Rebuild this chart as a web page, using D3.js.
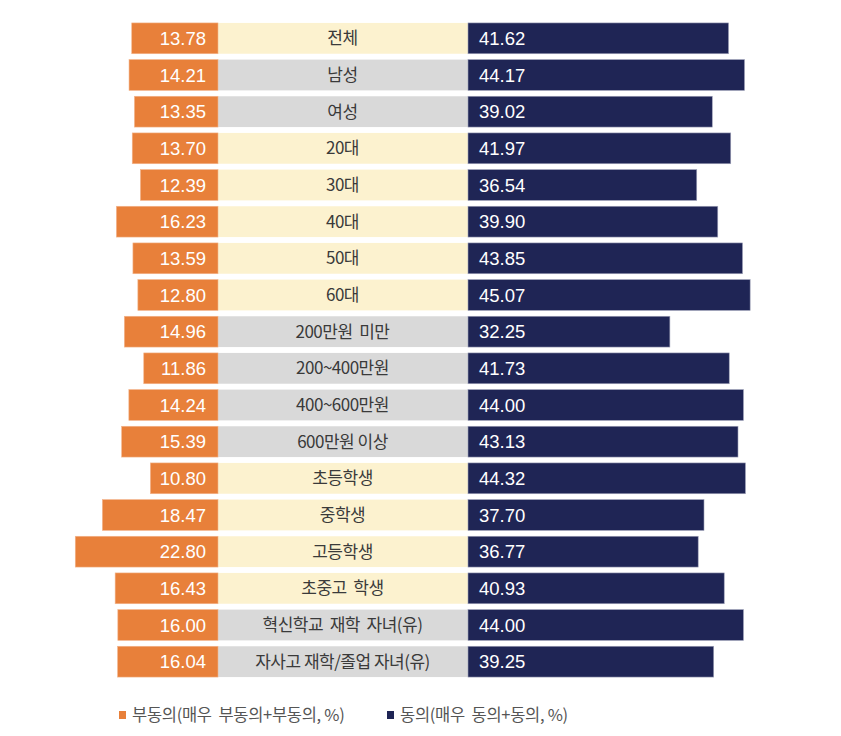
<!DOCTYPE html>
<html>
<head>
<meta charset="utf-8">
<script src="https://cdn.jsdelivr.net/npm/d3@7"></script>
<style>
  html, body { margin: 0; padding: 0; background: #ffffff; }
  svg { display: block; }
</style>
</head>
<body>
<svg id="chart" width="841" height="736"></svg>
<script>
const categories = ["전체", "남성", "여성", "20대", "30대", "40대", "50대", "60대",
  "200만원  미만", "200~400만원", "400~600만원", "600만원 이상",
  "초등학생", "중학생", "고등학생", "초중고  학생",
  "혁신학교  재학  자녀(유)", "자사고 재학/졸업 자녀(유)"];
const disagree = [13.78, 14.21, 13.35, 13.70, 12.39, 16.23, 13.59, 12.80,
  14.96, 11.86, 14.24, 15.39, 10.80, 18.47, 22.80, 16.43, 16.00, 16.04];
const agree = [41.62, 44.17, 39.02, 41.97, 36.54, 39.90, 43.85, 45.07,
  32.25, 41.73, 44.00, 43.13, 44.32, 37.70, 36.77, 40.93, 44.00, 39.25];
const groupShade = ["a", "b", "b", "a", "a", "a", "a", "a",
  "b", "b", "b", "b", "a", "a", "a", "a", "b", "b"];
const legendLabels = ["부동의(매우  부동의+부동의, %)", "동의(매우  동의+동의, %)"];

const svg = d3.select("#chart");
const ORANGE = "#E8803A", NAVY = "#1F2555";
const shadeColor = { a: "#FCF2CF", b: "#D9D9D9" };

const leftEdge = 218, midRight = 468;
const x = d3.scaleLinear().domain([0, 50]).range([0, 313]);
const y = d3.scaleBand().domain(categories).range([20, 680])
  .paddingInner(0.16).paddingOuter(0.08);

const rows = svg.append("g").selectAll("g").data(categories).join("g")
  .attr("transform", d => `translate(0,${y(d)})`);

// middle label boxes
rows.append("rect")
  .attr("x", leftEdge).attr("width", midRight - leftEdge)
  .attr("height", y.bandwidth())
  .attr("fill", (d, i) => shadeColor[groupShade[i]]);

rows.append("text")
  .attr("x", (leftEdge + midRight) / 2 - 0.5)
  .attr("y", y.bandwidth() / 2)
  .attr("dy", "0.36em")
  .attr("text-anchor", "middle")
  .attr("font-family", "'Noto Sans CJK KR', 'Noto Sans', sans-serif")
  .attr("font-size", 17)
  .attr("letter-spacing", "-0.5px")
  .attr("fill", "#3a3a3a")
  .style("white-space", "pre")
  .text(d => d);

// orange bars (left)
rows.append("rect")
  .attr("x", (d, i) => leftEdge - x(disagree[i]))
  .attr("width", (d, i) => x(disagree[i]))
  .attr("height", y.bandwidth())
  .attr("fill", ORANGE)
  .attr("stroke", "#F2B48C").attr("stroke-width", 0.6);

rows.append("text")
  .attr("x", leftEdge - 12)
  .attr("y", y.bandwidth() / 2)
  .attr("dy", "0.36em")
  .attr("text-anchor", "end")
  .attr("font-family", "'Liberation Sans', Arial, sans-serif")
  .attr("font-size", 18.5)
  .attr("fill", "#ffffff")
  .text((d, i) => disagree[i].toFixed(2));

// navy bars (right)
rows.append("rect")
  .attr("x", midRight)
  .attr("width", (d, i) => x(agree[i]))
  .attr("height", y.bandwidth())
  .attr("fill", NAVY)
  .attr("stroke", "#9EA1B8").attr("stroke-width", 0.6);

rows.append("text")
  .attr("x", midRight + 11)
  .attr("y", y.bandwidth() / 2)
  .attr("dy", "0.36em")
  .attr("text-anchor", "start")
  .attr("font-family", "'Liberation Sans', Arial, sans-serif")
  .attr("font-size", 18.5)
  .attr("fill", "#ffffff")
  .text((d, i) => agree[i].toFixed(2));

// legend
const legend = svg.append("g").attr("transform", "translate(0,715)");
const legendPos = [119, 387];
const legendCol = [ORANGE, NAVY];
legendLabels.forEach((lab, i) => {
  legend.append("rect").attr("x", legendPos[i]).attr("y", -4).attr("width", 7).attr("height", 8)
    .attr("fill", legendCol[i]);
  legend.append("text").attr("x", legendPos[i] + 13).attr("y", 0).attr("dy", "0.36em")
    .attr("font-family", "'Noto Sans CJK KR', 'Noto Sans', sans-serif")
    .attr("font-size", 16.5).attr("letter-spacing", "-0.3px")
    .attr("fill", "#555555")
    .style("white-space", "pre")
    .text(lab);
});
</script>
</body>
</html>
